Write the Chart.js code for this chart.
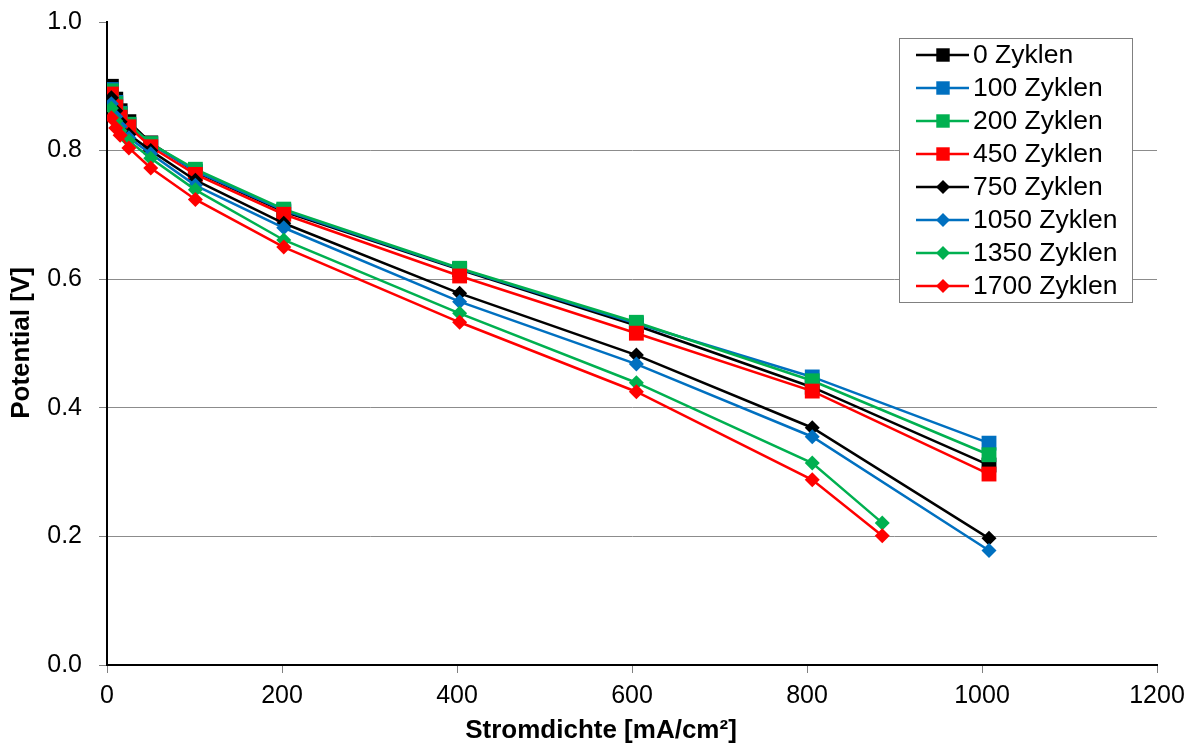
<!DOCTYPE html>
<html>
<head>
<meta charset="utf-8">
<script src="https://cdn.jsdelivr.net/npm/chart.js@4.4.1/dist/chart.umd.min.js"></script>
<style>
  html, body { margin: 0; padding: 0; background: #ffffff; }
  #wrap { width: 1191px; height: 747px; position: relative; }
</style>
</head>
<body>
<div id="wrap"><canvas id="c" width="1191" height="747"></canvas></div>
<script>
// ---- Data ----
const xFull  = [5, 10, 15, 25, 50, 101, 202, 403, 605, 806, 1008];
const xShort = [5, 10, 15, 25, 50, 101, 202, 403, 605, 806, 886];

const seriesNames = ['0 Zyklen', '100 Zyklen', '200 Zyklen', '450 Zyklen',
                     '750 Zyklen', '1050 Zyklen', '1350 Zyklen', '1700 Zyklen'];

const v0    = [0.900, 0.880, 0.862, 0.845, 0.812, 0.767, 0.705, 0.615, 0.528, 0.432, 0.311];
const v100  = [0.895, 0.875, 0.858, 0.840, 0.810, 0.768, 0.707, 0.616, 0.531, 0.448, 0.345];
const v200  = [0.893, 0.873, 0.857, 0.841, 0.811, 0.771, 0.709, 0.617, 0.533, 0.442, 0.327];
const v450  = [0.888, 0.868, 0.852, 0.837, 0.806, 0.763, 0.701, 0.605, 0.516, 0.426, 0.297];
const v750  = [0.882, 0.862, 0.845, 0.825, 0.800, 0.754, 0.687, 0.578, 0.482, 0.369, 0.197];
const v1050 = [0.873, 0.853, 0.838, 0.820, 0.795, 0.746, 0.680, 0.565, 0.468, 0.355, 0.178];
const v1350 = [0.866, 0.846, 0.831, 0.815, 0.788, 0.739, 0.661, 0.547, 0.439, 0.314, 0.221];
const v1700 = [0.851, 0.835, 0.824, 0.804, 0.773, 0.724, 0.650, 0.533, 0.425, 0.288, 0.201];

const yTicks = [0.0, 0.2, 0.4, 0.6, 0.8, 1.0];
const xTicks = [0, 200, 400, 600, 800, 1000, 1200];

const xTitle = 'Stromdichte [mA/cm²]';
const yTitle = 'Potential [V]';

// ---- Styling ----
const BLACK = '#000000', BLUE = '#0070C0', GREEN = '#00B050', RED = '#FF0000';
const FONT = "'Liberation Sans', Arial, sans-serif";

const seriesDefs = [
  { name: seriesNames[0], xs: xFull,  ys: v0,    color: BLACK, style: 'rect' },
  { name: seriesNames[1], xs: xFull,  ys: v100,  color: BLUE,  style: 'rect' },
  { name: seriesNames[2], xs: xFull,  ys: v200,  color: GREEN, style: 'rect' },
  { name: seriesNames[3], xs: xFull,  ys: v450,  color: RED,   style: 'rect' },
  { name: seriesNames[4], xs: xFull,  ys: v750,  color: BLACK, style: 'rectRot' },
  { name: seriesNames[5], xs: xFull,  ys: v1050, color: BLUE,  style: 'rectRot' },
  { name: seriesNames[6], xs: xShort, ys: v1350, color: GREEN, style: 'rectRot' },
  { name: seriesNames[7], xs: xShort, ys: v1700, color: RED,   style: 'rectRot' },
];

function radiusFor(style) { return style === 'rect' ? 10.5 : 7.5; }

const datasets = seriesDefs.map((s, i) => ({
  label: s.name,
  data: s.xs.map((x, k) => ({ x: x, y: s.ys[k] })),
  borderColor: s.color,
  backgroundColor: s.color,
  pointBackgroundColor: s.color,
  pointBorderColor: s.color,
  pointBorderWidth: 0,
  pointStyle: s.style,
  pointRadius: radiusFor(s.style),
  pointHoverRadius: radiusFor(s.style),
  borderWidth: 2.5,
  showLine: true,
  tension: 0,
  order: seriesDefs.length - i
}));

// Custom legend (line + marker + text) and axis titles
const decorPlugin = {
  id: 'decor',
  afterDraw(chart) {
    const ctx = chart.ctx;
    ctx.save();
    // legend box
    const bx = 899, by = 38, bw = 233, bh = 264;
    ctx.fillStyle = '#ffffff';
    ctx.fillRect(bx, by, bw, bh);
    ctx.strokeStyle = '#808080';
    ctx.lineWidth = 1;
    ctx.strokeRect(bx + 0.5, by + 0.5, bw, bh);
    const rowH = 33, firstY = 55;
    seriesDefs.forEach((s, i) => {
      const cy = firstY + i * rowH;
      ctx.strokeStyle = s.color;
      ctx.lineWidth = 2.5;
      ctx.beginPath();
      ctx.moveTo(916, cy);
      ctx.lineTo(969, cy);
      ctx.stroke();
      ctx.fillStyle = s.color;
      Chart.helpers.drawPoint(ctx, {
        pointStyle: s.style,
        radius: s.style === 'rect' ? 9.5 : 7,
        rotation: 0,
        borderWidth: 0
      }, 943, cy);
      ctx.fillStyle = '#000000';
      ctx.font = "26.5px " + FONT;
      ctx.textBaseline = 'middle';
      ctx.textAlign = 'left';
      ctx.fillText(s.name, 973, cy + 1);
    });
    // axis titles
    ctx.fillStyle = '#000000';
    ctx.font = "bold 26px " + FONT;
    ctx.textAlign = 'center';
    ctx.textBaseline = 'middle';
    ctx.fillText(xTitle, 601, 731);
    ctx.translate(22, 343);
    ctx.rotate(-Math.PI / 2);
    ctx.fillText(yTitle, 0, 0);
    ctx.restore();
  }
};

new Chart(document.getElementById('c'), {
  type: 'scatter',
  data: { datasets },
  options: {
    responsive: false,
    animation: false,
    devicePixelRatio: 1,
    layout: { padding: { left: 0, right: 34, top: 22, bottom: 0 } },
    plugins: {
      legend: { display: false },
      tooltip: { enabled: false }
    },
    scales: {
      x: {
        type: 'linear',
        min: 0, max: 1200,
        afterFit(scale) {
          scale.height = 82;
          scale.paddingLeft = 0; scale.paddingRight = 0;
        },
        afterBuildTicks(scale) { scale.ticks = xTicks.map(v => ({ value: v })); },
        ticks: {
          color: '#000000',
          font: { family: FONT, size: 25 },
          padding: 8,
          maxRotation: 0,
          callback: v => String(v)
        },
        grid: {
          drawOnChartArea: false,
          drawTicks: true,
          tickLength: 8,
          tickColor: '#808080',
          tickWidth: 1
        },
        border: { display: true, color: '#000000', width: 2 },
        title: { display: false }
      },
      y: {
        type: 'linear',
        min: 0, max: 1,
        afterFit(scale) {
          scale.width = 107;
          scale.paddingTop = 0; scale.paddingBottom = 0;
        },
        afterBuildTicks(scale) { scale.ticks = yTicks.map(v => ({ value: v })); },
        ticks: {
          color: '#000000',
          font: { family: FONT, size: 25 },
          padding: 17,
          callback: v => Number(v).toFixed(1)
        },
        grid: {
          color: c => (c.tick && c.tick.value > 0.001 && c.tick.value < 0.999) ? '#8c8c8c' : 'rgba(0,0,0,0)',
          lineWidth: 1,
          drawTicks: true,
          tickLength: 8,
          tickColor: '#808080',
          tickWidth: 1
        },
        border: { display: true, color: '#000000', width: 2 },
        title: { display: false }
      }
    }
  },
  plugins: [decorPlugin]
});
</script>
</body>
</html>
